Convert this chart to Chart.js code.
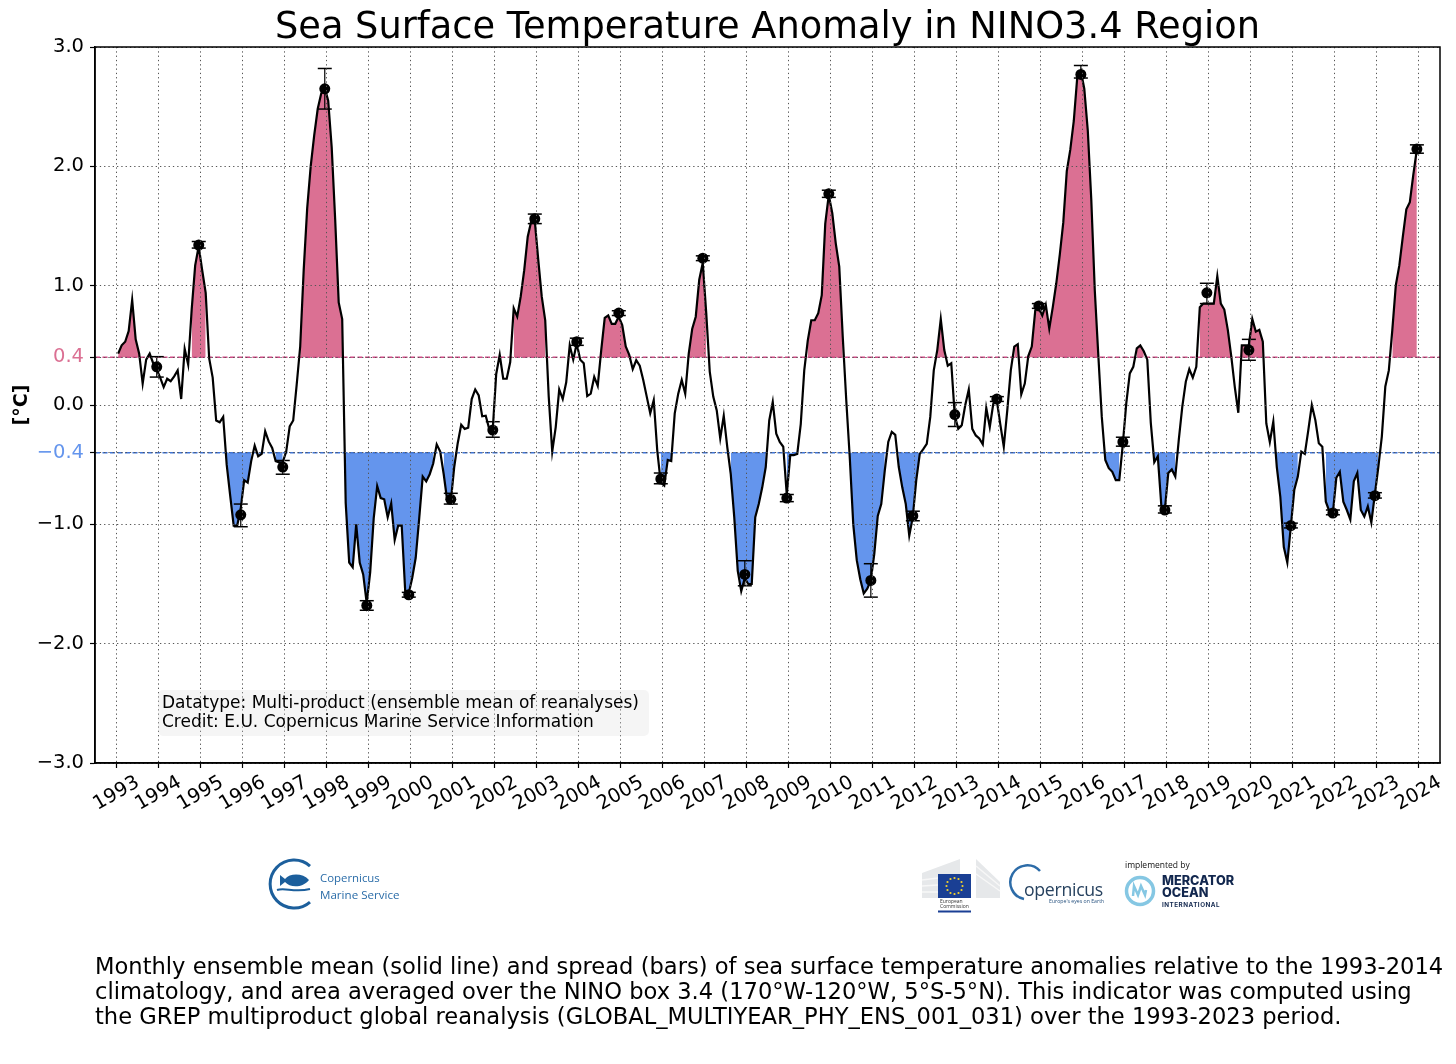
<!DOCTYPE html>
<html>
<head>
<meta charset="utf-8">
<script src="https://cdn.jsdelivr.net/npm/chart.js@4"></script>
<style>
html,body{margin:0;padding:0;background:#fff}
#wrap{position:relative;width:1456px;height:1064px;overflow:hidden;font-family:"DejaVu Sans",sans-serif}
canvas{position:absolute;left:0;top:0}
#box{position:absolute;left:158px;top:689.500px;width:491px;height:46px;background:rgba(220,220,220,.28);border-radius:5px;box-sizing:border-box;padding:3px 0 0 4px;font-size:17px;line-height:19.5px;color:#000;white-space:nowrap}
#caption{position:absolute;left:95px;top:954px;font-size:22.6px;line-height:25px;color:#000;white-space:nowrap}
svg{position:absolute;left:0;top:0}
</style>
</head>
<body>
<div id="wrap">
<canvas id="c" width="1456" height="1064"></canvas>
<div id="box">Datatype: Multi-product (ensemble mean of reanalyses)<br>Credit: E.U. Copernicus Marine Service Information</div>
<div id="caption">Monthly ensemble mean (solid line) and spread (bars) of sea surface temperature anomalies relative to the 1993-2014<br>climatology, and area averaged over the NINO box 3.4 (170°W-120°W, 5°S-5°N). This indicator was computed using<br>the GREP multiproduct global reanalysis (GLOBAL_MULTIYEAR_PHY_ENS_001_031) over the 1993-2023 period.</div>
<svg width="1456" height="1064" viewBox="0 0 1456 1064">
  <!-- Copernicus Marine Service -->
  <path d="M310 866 A24 24 0 1 0 310 902" fill="none" stroke="#1c5f9c" stroke-width="3"/>
  <path d="M280 875 L285 879 C290 873 303 873 309 880 C303 888 290 888 285 882 L280 886 Z" fill="#1c5f9c"/>
  <path d="M277 890 C285 887 294 893 310 889" fill="none" stroke="#1c5f9c" stroke-width="2"/>
  <text x="320" y="882" font-family="Open Sans" font-size="11.400" fill="#2a6ca8">Copernicus</text>
  <text x="320" y="899" font-family="Open Sans" font-size="11.600" fill="#2a6ca8">Marine Service</text>
  <!-- European Commission -->
  <path d="M922 873 L960 859 L960 874 L938 874 L938 898 L922 898 Z" fill="#e6e8ea"/>
  <path d="M976 859 L1000 882 L1000 898 L976 898 Z" fill="#e6e8ea"/>
  <path d="M922 880 L938 878 M922 886 L938 885 M922 892 L938 892 M976 866 L1000 886 M976 874 L1000 891" stroke="#f7f7f7" stroke-width="1.500" fill="none"/>
  <rect x="938" y="874" width="33" height="24" fill="#1a3f94"/>
  <g fill="#f6d32d">
    <circle cx="954.500" cy="878" r="1.100"/><circle cx="958.500" cy="879" r="1.100"/><circle cx="961.500" cy="882" r="1.100"/><circle cx="962.500" cy="886" r="1.100"/><circle cx="961.500" cy="890" r="1.100"/><circle cx="958.500" cy="893" r="1.100"/><circle cx="954.500" cy="894" r="1.100"/><circle cx="950.500" cy="893" r="1.100"/><circle cx="947.500" cy="890" r="1.100"/><circle cx="946.500" cy="886" r="1.100"/><circle cx="947.500" cy="882" r="1.100"/><circle cx="950.500" cy="879" r="1.100"/>
  </g>
  <text x="940" y="903" font-family="Open Sans" font-size="5" fill="#333">European</text>
  <text x="940" y="908" font-family="Open Sans" font-size="5" fill="#333">Commission</text>
  <rect x="938" y="910.500" width="33" height="2" fill="#1a3f94"/>
  <!-- Copernicus -->
  <path d="M1040 871 A17 17 0 1 0 1024 899" fill="none" stroke="#2d6ca8" stroke-width="2.500"/>
  <text x="1024" y="896" font-family="Open Sans" font-size="17.700" fill="#27425f" letter-spacing="-.3">opernicus</text>
  <text x="1049" y="903" font-family="Open Sans" font-size="5.200" fill="#27527f">Europe's eyes on Earth</text>
  <!-- Mercator Ocean -->
  <text x="1125" y="868" font-family="Open Sans" font-size="8.500" fill="#111">implemented by</text>
  <circle cx="1140" cy="891" r="13.500" fill="none" stroke="#85c7e3" stroke-width="3.500"/>
  <path d="M1133 896 L1134 886 L1138 895 L1141 886 L1145 895 L1146 890" fill="none" stroke="#85c7e3" stroke-width="2.500"/>
  <text x="1162" y="885" font-family="Inter" font-weight="800" font-size="12.700" fill="#12274e">MERCATOR</text>
  <text x="1162" y="897" font-family="Inter" font-weight="800" font-size="12.700" fill="#12274e">OCEAN</text>
  <text x="1162" y="907" font-family="Inter" font-weight="700" font-size="6.300" letter-spacing=".5" fill="#12274e">INTERNATIONAL</text>
</svg>
</div>
<script>
// Monthly ensemble mean, one row per year 1993..2023
const monthlyMean = [
 .43,.50,.53,.62,.88,.55,.43,.18,.38,.43,.35,.30,
 .23,.15,.22,.20,.24,.29,.05,.47,.34,.80,1.17,1.33,
 1.13,.94,.39,.23,-.13,-.145,-.10,-.5,-.76,-1.01,-1.01,-.87,
 -.63,-.65,-.47,-.34,-.43,-.41,-.22,-.305,-.36,-.47,-.48,-.48,
 -.39,-.18,-.13,.17,.49,1.13,1.65,2.0,2.26,2.48,2.61,2.66,
 2.55,2.16,1.55,.86,.72,-.82,-1.32,-1.36,-1.0,-1.32,-1.42,-1.66,
 -1.4,-.95,-.68,-.78,-.79,-.94,-.825,-1.13,-1.01,-1.01,-1.56,-1.58,
 -1.45,-1.28,-.95,-.6,-.64,-.58,-.49,-.33,-.39,-.58,-.8,-.815,
 -.52,-.32,-.165,-.2,-.19,.05,.13,.08,-.095,-.09,-.2,-.21,
 .26,.42,.22,.22,.36,.81,.74,.91,1.13,1.41,1.54,1.55,
 1.22,.91,.71,.07,-.39,-.185,.13,.05,.19,.5,.38,.515,
 .38,.35,.075,.095,.235,.16,.46,.73,.75,.68,.68,.74,
 .67,.49,.42,.30,.375,.33,.21,.07,-.07,.04,-.38,-.65,
 -.675,-.46,-.47,-.07,.095,.21,.095,.43,.64,.74,1.05,1.19,
 .77,.28,.07,-.045,-.28,-.09,-.35,-.58,-.94,-1.39,-1.56,-1.45,
 -1.5,-1.5,-.94,-.83,-.69,-.52,-.13,.025,-.24,-.31,-.35,-.75,
 -.42,-.42,-.41,-.16,.29,.54,.71,.71,.77,.92,1.52,1.76,
 1.61,1.355,1.16,.57,.04,-.44,-1.0,-1.3,-1.46,-1.58,-1.54,-1.47,
 -1.25,-.93,-.83,-.55,-.31,-.225,-.25,-.52,-.69,-.83,-1.095,-.94,
 -.63,-.41,-.37,-.325,-.10,.29,.46,.72,.46,.33,.35,-.09,
 -.2,-.17,0,.13,-.2,-.255,-.28,-.33,-.025,-.185,.01,.04,
 -.16,-.35,-.045,.29,.49,.51,.09,.18,.41,.49,.795,.81,
 .75,.84,.64,.82,1.02,1.26,1.53,1.96,2.14,2.38,2.75,2.80,
 2.65,2.3,1.72,.96,.42,-.1,-.46,-.53,-.56,-.63,-.63,-.33,
 .015,.265,.32,.475,.50,.45,.38,-.15,-.48,-.43,-.84,-.88,
 -.57,-.54,-.6,-.29,-.014,.195,.30,.23,.32,.82,.85,.85,
 .85,.85,1.08,.85,.80,.63,.405,.15,-.065,.50,.50,.50,
 .72,.615,.63,.53,-.155,-.31,-.14,-.52,-.77,-1.19,-1.32,-1.02,
 -.71,-.6,-.39,-.41,-.21,0,-.125,-.32,-.35,-.81,-.89,-.91,
 -.61,-.56,-.81,-.88,-.96,-.64,-.57,-.88,-.935,-.85,-.985,-.75,
 -.52,-.265,.155,.29,.63,1.005,1.17,1.41,1.64,1.70,1.93,2.14
];
const startYear = 1993;
const yearTicks = [1993,1994,1995,1996,1997,1998,1999,2000,2001,2002,2003,2004,2005,2006,2007,2008,2009,2010,2011,2012,2013,2014,2015,2016,2017,2018,2019,2020,2021,2022,2023,2024];
const valueTicks = [-3,-2,-1,-0.4,0,0.4,1,2,3];
// December marks: ensemble mean and spread
const decMean = [.32,1.34,-.92,-.52,2.65,-1.68,-1.59,-.79,-.21,1.56,.53,.77,-.62,1.23,-1.42,-.78,1.77,-1.47,-.93,-.08,.05,.83,2.77,-.31,-.88,.94,.46,-1.01,-.905,-.76,2.145];
const decHigh = [.405,1.37,-.83,-.465,2.82,-1.64,-1.57,-.74,-.14,1.60,.56,.79,-.57,1.25,-1.305,-.75,1.80,-1.33,-.89,.02,.07,.85,2.845,-.27,-.845,1.02,.55,-.99,-.88,-.735,2.18];
const decLow  = [.234,1.315,-1.02,-.58,2.48,-1.72,-1.61,-.83,-.27,1.52,.50,.75,-.66,1.21,-1.515,-.81,1.74,-1.61,-.97,-.18,.03,.81,2.74,-.345,-.905,.85,.375,-1.03,-.92,-.78,2.11];
const warmLimit = 0.4, coldLimit = -0.4;
const xMin = 1992.49, xMax = 2024.51, labelShift = 0.51;
const title = 'Sea Surface Temperature Anomaly in NINO3.4 Region';

const pink = '#DB7093', blue = '#6495ED';
const monthX = i => startYear + (i + .5) / 12;
const decX = i => startYear + i + 1 - .04;
const meanPts = monthlyMean.map((y,i)=>({x:monthX(i),y}));
const warmPts = meanPts.map(p=>({x:p.x,y:p.y>warmLimit?p.y:null}));
const coldPts = meanPts.map(p=>({x:p.x,y:p.y<coldLimit?p.y:null}));
const decPts = decMean.map((y,i)=>({x:decX(i),y}));
const whiskers = decMean.flatMap((_,i)=>[{x:decX(i),y:decLow[i]},{x:decX(i),y:decHigh[i]},{x:decX(i),y:null}]);
const fmt = v => (v<0?'\u2212':'')+Math.abs(v).toFixed(1);

new Chart(document.getElementById('c'),{
  type:'line',
  data:{datasets:[
    {data:decPts,order:1,showLine:false,pointRadius:5.5,pointHoverRadius:5.5,pointBackgroundColor:'#000',pointBorderWidth:0,borderColor:'#000'},
    {data:whiskers,order:2,spanGaps:false,borderColor:'#000',borderWidth:1.2,pointStyle:'line',pointRadius:7,pointHoverRadius:7,pointBorderColor:'#000',pointBorderWidth:1.5},
    {data:meanPts,order:3,borderColor:'#000',borderWidth:2.2,pointRadius:0,tension:0,borderJoinStyle:'miter'},
    {data:[{x:xMin,y:warmLimit},{x:xMax,y:warmLimit}],order:4,borderColor:'#cf4a85',borderWidth:1.6,borderDash:[5,2.500],pointRadius:0},
    {data:[{x:xMin,y:coldLimit},{x:xMax,y:coldLimit}],order:5,borderColor:'#3f74d6',borderWidth:1.6,borderDash:[5,2.500],pointRadius:0},
    {data:warmPts,order:6,spanGaps:false,borderWidth:0,pointRadius:0,borderColor:'transparent',backgroundColor:pink,fill:{target:{value:warmLimit},above:pink,below:pink}},
    {data:coldPts,order:7,spanGaps:false,borderWidth:0,pointRadius:0,borderColor:'transparent',backgroundColor:blue,fill:{target:{value:coldLimit},above:blue,below:blue}}
  ]},
  options:{
    responsive:false,animation:false,devicePixelRatio:1,
    layout:{padding:{left:0,right:16,top:0,bottom:0}},
    font:{family:'"DejaVu Sans"'},
    plugins:{
      legend:{display:false},tooltip:{enabled:false},
      title:{display:true,text:title,fullSize:false,color:'#000',font:{family:'"DejaVu Sans"',size:36.75,weight:'normal',lineHeight:1},padding:{top:10.25,bottom:0}}
    },
    scales:{
      x:{type:'linear',position:'bottom',weight:1,min:xMin,max:xMax,
        afterFit:s=>{s.height=6},
        afterBuildTicks:s=>{s.ticks=yearTicks.map(value=>({value}))},
        grid:{color:'#555',lineWidth:1,z:1,tickColor:'#000',tickLength:5,tickWidth:1.2,tickBorderDash:[]},
        border:{display:true,z:2,color:'#000',width:1.5,dash:[1.3,3]},
        ticks:{display:false}},
      x2:{type:'linear',position:'bottom',weight:2,min:xMin-labelShift,max:xMax-labelShift,
        afterFit:s=>{s.height=295},
        afterBuildTicks:s=>{s.ticks=yearTicks.map(value=>({value}))},
        grid:{display:false,drawTicks:false},border:{display:false},
        ticks:{autoSkip:false,minRotation:30,maxRotation:30,padding:2,color:'#000',font:{family:'"DejaVu Sans"',size:19.5},callback:v=>String(v)}},
      y:{type:'linear',position:'left',min:-3,max:3,
        afterFit:s=>{s.width=95},
        afterBuildTicks:s=>{s.ticks=valueTicks.map(value=>({value}))},
        grid:{color:'#555',lineWidth:1,z:1,tickColor:'#000',tickLength:5,tickWidth:1.2,tickBorderDash:[]},
        border:{display:true,z:2,color:'#000',width:1.5,dash:[1.3,3]},
        title:{display:true,text:'[°C]',color:'#000',font:{family:'"DejaVu Sans"',size:19,weight:'bold'},padding:{top:11,bottom:0}},
        ticks:{autoSkip:false,padding:6,font:{family:'"DejaVu Sans"',size:19.5},callback:v=>fmt(v),
          color:c=>c.tick&&c.tick.value===warmLimit?'#DB7093':(c.tick&&c.tick.value===coldLimit?'#6495ED':'#000')}}
    }
  },
  plugins:[{id:'frame',afterDraw(ch){const a=ch.chartArea,g=ch.ctx;g.save();g.strokeStyle='#000';g.lineWidth=1.5;g.setLineDash([]);g.strokeRect(a.left,a.top,a.right-a.left,a.bottom-a.top);g.restore();}}]
});
</script>
</body>
</html>
